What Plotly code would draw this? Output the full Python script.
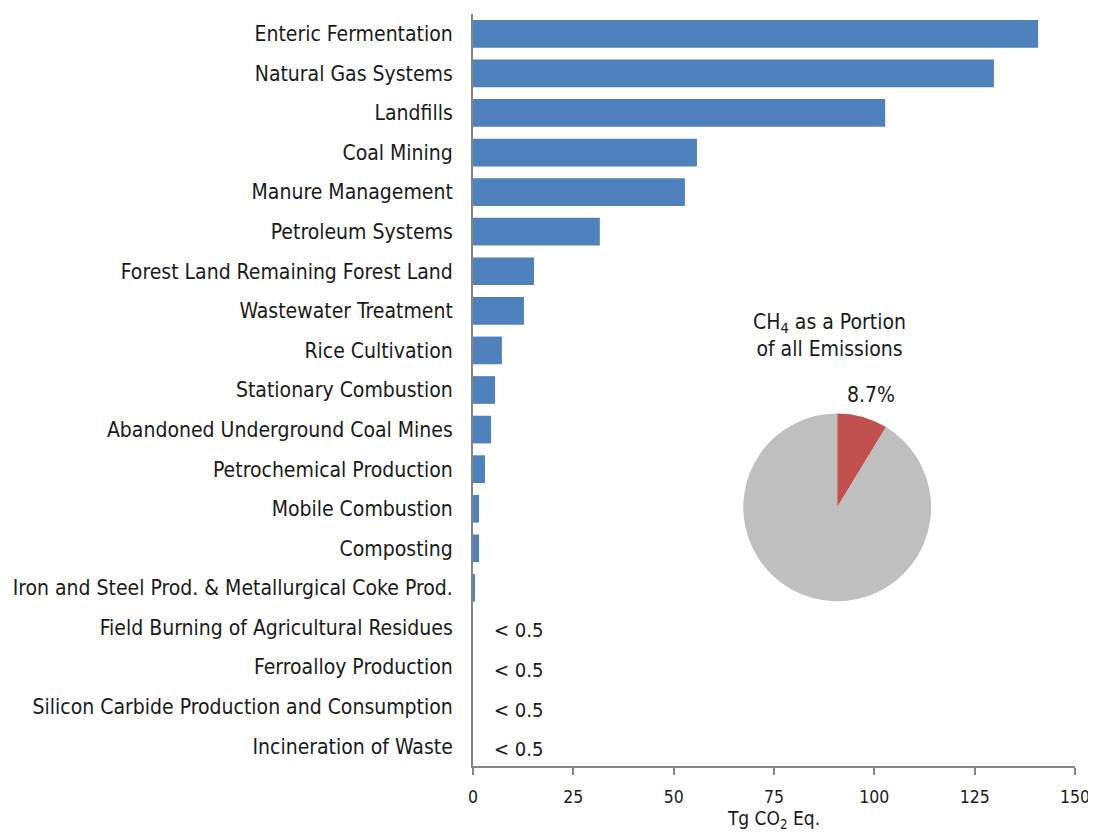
import plotly.graph_objects as go

categories = [
    "Enteric Fermentation", "Natural Gas Systems", "Landfills", "Coal Mining",
    "Manure Management", "Petroleum Systems", "Forest Land Remaining Forest Land",
    "Wastewater Treatment", "Rice Cultivation", "Stationary Combustion",
    "Abandoned Underground Coal Mines", "Petrochemical Production",
    "Mobile Combustion", "Composting",
    "Iron and Steel Prod. & Metallurgical Coke Prod.",
    "Field Burning of Agricultural Residues", "Ferroalloy Production",
    "Silicon Carbide Production and Consumption", "Incineration of Waste",
]
values = [140.8, 129.8, 102.7, 55.8, 52.8, 31.6, 15.2, 12.7, 7.2, 5.5, 4.5,
          3.0, 1.5, 1.5, 0.5, 0, 0, 0, 0]
small_labels = ["", "", "", "", "", "", "", "", "", "", "", "", "", "", "",
                "< 0.5", "< 0.5", "< 0.5", "< 0.5"]
pie_labels = ["CH4", "Other"]
pie_values = [8.7, 91.3]
pie_title = "CH<sub>4</sub> as a Portion<br>of all Emissions"
pie_label_text = "8.7%"
x_ticks = [0, 25, 50, 75, 100, 125, 150]

FONT = "DejaVu Sans Condensed, DejaVu Sans, sans-serif"
TXT = "#1a1a1a"

fig = go.Figure()
fig.add_trace(go.Bar(
    y=categories, x=values, orientation="h",
    marker=dict(color="#4F81BD", line=dict(width=0)),
    showlegend=False, hoverinfo="x+y",
))
fig.add_trace(go.Pie(
    labels=pie_labels, values=pie_values, sort=False, direction="clockwise",
    rotation=0, marker=dict(colors=["#C0504D", "#BFBFBF"], line=dict(width=0)),
    textinfo="none", showlegend=False,
    domain=dict(x=[0.449, 0.761], y=[0.219, 0.469]),
))

for c, s in zip(categories, small_labels):
    if s:
        fig.add_annotation(x=0, y=c, text=s, xref="x", yref="y", xanchor="left",
                           xshift=19, yshift=-3, showarrow=False,
                           font=dict(size=20, color=TXT, family=FONT))

fig.add_annotation(x=0.592, y=0.573, xref="paper", yref="paper", text=pie_title,
                   showarrow=False, xanchor="center", yanchor="middle",
                   font=dict(size=21, color=TXT, family=FONT))
fig.add_annotation(x=0.661, y=0.493, xref="paper", yref="paper", text=pie_label_text,
                   showarrow=False, xanchor="center", yanchor="middle",
                   font=dict(size=21, color=TXT, family=FONT))

# The page places the figure 8px in from the top-left corner.
fig.update_layout(
    width=1088, height=827,
    margin=dict(l=465, r=21, t=6, b=69),
    plot_bgcolor="white", paper_bgcolor="white",
    bargap=0.3,
    font=dict(family=FONT, size=18, color=TXT),
    xaxis=dict(range=[0, 150], tickvals=x_ticks, showgrid=False, zeroline=False,
               automargin=False,
               showline=True, linecolor="#868686", linewidth=2,
               ticks="outside", ticklen=7, tickcolor="#868686", tickwidth=1.5,
               ticklabelstandoff=7,
               title=dict(text="Tg CO<sub>2</sub> Eq.", standoff=0,
                          font=dict(size=19, color=TXT, family=FONT)),
               tickfont=dict(size=17.5, color=TXT, family=FONT)),
    yaxis=dict(categoryorder="array", categoryarray=categories, autorange="reversed",
               automargin=False,
               showgrid=False, zeroline=False, showline=True, linecolor="#868686",
               linewidth=2, ticks="", ticklabelstandoff=14,
               tickfont=dict(size=21, color=TXT, family=FONT)),
)

fig.write_html("out.html")
